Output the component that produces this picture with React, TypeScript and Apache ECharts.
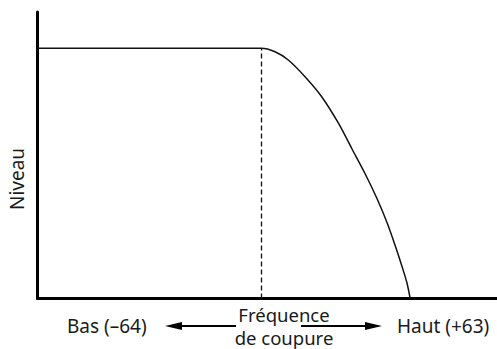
import React, { useEffect, useRef } from "react";
import * as echarts from "echarts";

// Frequency (0 = Bas, 100 = Haut) and level (0..100) of the response curve
const freq = [0, 45, 48.64, 51.69, 54.58, 58.22, 61.85, 65.46, 68.45, 71.27, 73.88, 76.06, 77.8, 79.33, 80.41, 81.1];
const level = [87.33, 87.33, 87.33, 86.14, 83.25, 77.42, 70.44, 61.26, 52.18, 43.63, 34.9, 26.53, 18.67, 11.17, 5.41, 0];
const cutoff = 48.64;
const cutoffLevel = 87.33;

const yTitle = "Niveau";
const lowLabel = "Bas (–64)";
const highLabel = "Haut (+63)";
const cutoffLabel = "Fréquence\nde coupure";

export default function App() {
  const ref = useRef<HTMLDivElement>(null);
  useEffect(() => {
    if (!ref.current) return;
    const chart = echarts.init(ref.current, null, { renderer: "svg" });
    const font = '"Noto Sans", sans-serif';
    const textColor = "#1a1a1a";
    chart.setOption({
      animation: false,
      grid: { left: 37.5, right: 0, top: 12, bottom: 50.5 },
      xAxis: {
        type: "value",
        min: 0,
        max: 100,
        axisLine: { show: true, lineStyle: { color: "#000", width: 3 } },
        axisTick: { show: false },
        axisLabel: { show: false },
        splitLine: { show: false },
      },
      yAxis: {
        type: "value",
        min: 0,
        max: 100,
        axisLine: { show: true, lineStyle: { color: "#000", width: 3 } },
        axisTick: { show: false },
        axisLabel: { show: false },
        splitLine: { show: false },
      },
      series: [
        {
          type: "line",
          data: freq.map((f, i) => [f, level[i]]),
          smooth: 0.3,
          symbol: "none",
          lineStyle: { color: "#111", width: 1.5 },
          markLine: {
            silent: true,
            symbol: "none",
            label: { show: false },
            lineStyle: { color: "#111", width: 1.3, type: [5, 3] },
            data: [[{ coord: [cutoff, 0] }, { coord: [cutoff, cutoffLevel] }]],
          },
        },
      ],
      graphic: [
        {
          type: "text",
          x: 17,
          y: 179,
          rotation: Math.PI / 2,
          style: { text: yTitle, font: `19px ${font}`, fill: textColor, align: "center", verticalAlign: "middle" },
        },
        {
          type: "text",
          x: 67,
          y: 326,
          style: { text: lowLabel, font: `19px ${font}`, fill: textColor, align: "left", verticalAlign: "middle" },
        },
        {
          type: "text",
          x: 397,
          y: 326,
          style: { text: highLabel, font: `19px ${font}`, fill: textColor, align: "left", verticalAlign: "middle" },
        },
        {
          type: "text",
          x: 284,
          y: 326,
          style: {
            text: cutoffLabel,
            font: `18.5px ${font}`,
            lineHeight: 23,
            fill: textColor,
            align: "center",
            verticalAlign: "middle",
          },
        },
        {
          type: "line",
          shape: { x1: 178, y1: 326, x2: 236, y2: 326 },
          style: { stroke: "#000", lineWidth: 2 },
        },
        {
          type: "polygon",
          shape: { points: [[165, 326], [182, 322], [182, 330]] },
          style: { fill: "#000" },
        },
        {
          type: "line",
          shape: { x1: 301, y1: 326, x2: 370, y2: 326 },
          style: { stroke: "#000", lineWidth: 2 },
        },
        {
          type: "polygon",
          shape: { points: [[382, 326], [365, 322], [365, 330]] },
          style: { fill: "#000" },
        },
      ],
    });
    return () => chart.dispose();
  }, []);
  return (
    <div
      ref={ref}
      style={{ position: "fixed", left: 0, top: 0, width: 497, height: 349, background: "#fff" }}
    />
  );
}
